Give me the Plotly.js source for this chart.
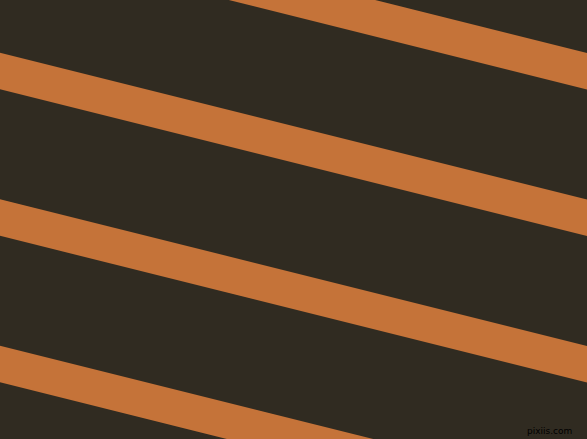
<!DOCTYPE html>
<html>
<head>
<meta charset="utf-8">
<script src="https://cdn.plot.ly/plotly-3.0.1.min.js"></script>
<style>
  html,body{margin:0;padding:0;background:#302b21;overflow:hidden}
  #chart{width:587px;height:439px}
</style>
</head>
<body>
<div id="chart"></div>
<script>
  // --------- Datos ---------
  // borde superior de cada franja al cruzar x=0 (px, y hacia abajo)
  const stripeTops  = [-93.8, 52.7, 199.2, 345.7];
  const stripeWidth = 36.6;   // grosor vertical
  const slope       = 0.25;   // caída por px en x
  const xSpan       = [-20, 610];

  const BG = '#302b21', ORANGE = '#c57339';

  const traces = stripeTops.map(t => {
    const [a, b] = xSpan;
    return {
      type: 'scatter', mode: 'lines', fill: 'toself',
      x: [a, b, b, a, a],
      y: [t + slope*a, t + slope*b, t + stripeWidth + slope*b, t + stripeWidth + slope*a, t + slope*a],
      line: {width: 0, color: ORANGE}, fillcolor: ORANGE,
      hoverinfo: 'skip', showlegend: false
    };
  });

  const layout = {
    width: 587, height: 439,
    margin: {t:0, r:0, b:0, l:0},
    paper_bgcolor: BG, plot_bgcolor: BG,
    xaxis: {range: [0, 587], visible: false, fixedrange: true},
    yaxis: {range: [439, 0], visible: false, fixedrange: true},
    annotations: [{
      text: 'pixiis.com', xref: 'paper', yref: 'paper', x: 0.978, y: 0.003,
      xanchor: 'right', yanchor: 'bottom', showarrow: false,
      font: {family: 'DejaVu Sans', size: 9, color: '#000000'}
    }]
  };

  Plotly.newPlot('chart', traces, layout, {staticPlot: true, displayModeBar: false});
</script>
</body>
</html>
